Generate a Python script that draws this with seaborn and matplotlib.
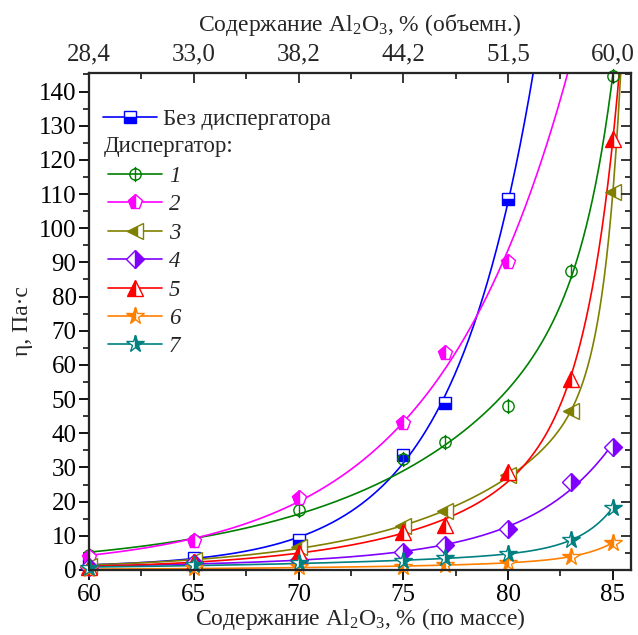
import numpy as np
import pandas as pd
import matplotlib
matplotlib.use("Agg")
import matplotlib.pyplot as plt
from matplotlib.path import Path
from matplotlib.lines import Line2D
from matplotlib.ticker import MultipleLocator, FixedLocator, FixedFormatter
import seaborn as sns

# ---------------- data ----------------
x_all = [60, 65, 70, 75, 77, 80, 83, 85]
x_short = [60, 65, 70, 75, 77, 80]

y_none = [1.5, 3.6, 8.8, 33.5, 49.0, 108.5]           # Без диспергатора
y_d1 = [4.4, 8.9, 17.5, 32.5, 37.5, 48.0, 87.5, 144.5]
y_d2 = [3.9, 8.4, 21.2, 43.0, 63.5, 90.0]
y_d3 = [1.2, 2.9, 6.6, 12.9, 17.3, 27.7, 46.5, 110.5]
y_d4 = [1.0, 2.1, 2.9, 5.4, 7.3, 11.9, 25.7, 36.0]
y_d5 = [1.0, 2.4, 5.0, 11.0, 13.1, 28.6, 56.0, 126.0]
y_d6 = [0.2, 0.5, 0.8, 1.0, 1.5, 2.1, 3.9, 8.0]
y_d7 = [0.7, 1.5, 1.9, 2.7, 3.6, 4.6, 8.9, 18.2]

top_tick_pos = [60, 65, 70, 75, 80, 85]
top_tick_labels = ["28,4", "33,0", "38,2", "44,2", "51,5", "60,0"]
bottom_ticks = [60, 65, 70, 75, 80, 85]
legend_labels = ["Без диспергатора", "1", "2", "3", "4", "5", "6", "7"]

# ---------------- style ----------------
sns.set_theme(style="ticks")
plt.rcParams["font.family"] = ["Liberation Serif", "DejaVu Serif"]
plt.rcParams["mathtext.fontset"] = "custom"
plt.rcParams["mathtext.rm"] = "Liberation Serif"
plt.rcParams["mathtext.it"] = "Liberation Serif:italic"
plt.rcParams["mathtext.default"] = "rm"

TFS = 18     # tick labels
LFS = 17     # axis titles
GFS = 16.5   # legend

phi = Path.make_compound_path(
    Path.unit_circle(),
    Path([[0, -1.35], [0, 1.35]], [Path.MOVETO, Path.LINETO]),
)

series = [
    dict(x=x_short, y=y_none, color="#0000FF", marker="s", fill="bottom", ms=8, xend=86),
    dict(x=x_all, y=y_d1, color="#008000", marker=phi, fill="none", ms=11, xend=86),
    dict(x=x_short, y=y_d2, color="#FF00FF", marker="p", fill="left", ms=11, xend=86),
    dict(x=x_all, y=y_d3, color="#808000", marker="<", fill="left", ms=11, xend=86),
    dict(x=x_all, y=y_d4, color="#8000FF", marker="D", fill="right", ms=9, xend=85),
    dict(x=x_all, y=y_d5, color="#FF0000", marker="^", fill="left", ms=11, xend=86),
    dict(x=x_all, y=y_d6, color="#FF8000", marker="*", fill="left", ms=13, xend=85),
    dict(x=x_all, y=y_d7, color="#008080", marker="*", fill="right", ms=13, xend=85),
]


def two_exp_fit(xs, ys, xend):
    """Non-negative sum of two exponential growths, weighted toward relative error."""
    xs = np.asarray(xs, float)
    ys = np.asarray(ys, float)
    w = 1.0 / np.sqrt(ys)
    best = None
    ts = np.geomspace(0.6, 40, 70)
    for i, t1 in enumerate(ts):
        for t2 in ts[: i + 1]:
            A = np.column_stack([np.exp((xs - 60) / t1), np.exp((xs - 60) / t2)])
            coef, *_ = np.linalg.lstsq(A * w[:, None], ys * w, rcond=None)
            if np.any(coef < 0):
                continue
            r = np.sum(((A @ coef - ys) * w) ** 2)
            if best is None or r < best[0]:
                best = (r, t1, t2, coef)
    _, t1, t2, coef = best
    grid = np.linspace(60, xend, 700)
    return grid, coef[0] * np.exp((grid - 60) / t1) + coef[1] * np.exp((grid - 60) / t2)


fig = plt.figure(figsize=(6.38, 6.35), dpi=100)
ax = fig.add_axes([0.1395, 0.1024, 0.849, 0.7831])

handles = []
for s in series:
    gx, gy = two_exp_fit(s["x"], s["y"], s["xend"])
    sns.lineplot(x=gx, y=gy, ax=ax, color=s["color"], lw=1.2, legend=False,
                 sort=False, zorder=2)
    if s["fill"] == "none":
        mfc, fs = "none", "full"
    else:
        mfc, fs = s["color"], s["fill"]
    ax.plot(s["x"], s["y"], linestyle="none", marker=s["marker"], ms=s["ms"],
            color=s["color"], mec=s["color"], mfc=mfc, mfcalt="white",
            fillstyle=fs, mew=1.0, zorder=3, clip_on=False)
    handles.append(Line2D([], [], color=s["color"], lw=1.2, marker=s["marker"],
                          ms=s["ms"], mec=s["color"], mfc=mfc, mfcalt="white",
                          fillstyle=fs, mew=1.0))

ax.set_xlim(60, 85.85)
ax.set_ylim(0, 145.5)

# bottom / left axes
ax.xaxis.set_major_locator(FixedLocator(bottom_ticks))
ax.xaxis.set_minor_locator(MultipleLocator(2.5))
ax.yaxis.set_major_locator(MultipleLocator(10))
ax.yaxis.set_minor_locator(MultipleLocator(5))
ax.tick_params(axis="both", which="major", direction="out", length=7, width=1.3,
               labelsize=TFS, color="black", labelcolor="black")
ax.tick_params(axis="x", which="major", pad=3)
ax.tick_params(axis="y", which="major", pad=2)
ax.tick_params(axis="both", which="minor", direction="out", length=4, width=1.3)
for sp in ax.spines.values():
    sp.set_linewidth(1.5)
    sp.set_color("black")
    sp.set_visible(True)

ax.set_xlabel("Содержание Al$_2$O$_3$, % (по массе)", fontsize=LFS, labelpad=0)
ax.set_ylabel("η, Па·с", fontsize=LFS, labelpad=4)

# top axis
axt = ax.twiny()
axt.set_xlim(ax.get_xlim())
axt.xaxis.set_major_locator(FixedLocator(top_tick_pos))
axt.xaxis.set_major_formatter(FixedFormatter(top_tick_labels))
axt.xaxis.set_minor_locator(MultipleLocator(2.5))
axt.tick_params(axis="x", which="major", direction="in", length=7, width=1.3,
                labelsize=TFS, pad=5)
axt.tick_params(axis="x", which="minor", direction="in", length=4, width=1.3)
axt.set_xlabel("Содержание Al$_2$O$_3$, % (объемн.)", fontsize=LFS, labelpad=9)

# right ticks
axr = ax.twinx()
axr.set_ylim(ax.get_ylim())
axr.yaxis.set_major_locator(MultipleLocator(10))
axr.yaxis.set_minor_locator(MultipleLocator(5))
axr.tick_params(axis="y", which="major", direction="in", length=7, width=1.3,
                labelright=False)
axr.tick_params(axis="y", which="minor", direction="in", length=4, width=1.3)
for a in (axt, axr):
    for sp in a.spines.values():
        sp.set_linewidth(1.5)

# legends
leg1 = ax.legend([handles[0]], [legend_labels[0]], loc="upper left",
                 bbox_to_anchor=(0.0, 0.955), frameon=False, fontsize=GFS,
                 handlelength=2.35, handletextpad=0.3, borderaxespad=0.2)
ax.add_artist(leg1)
ax.text(0.028, 0.852, "Диспергатор:", transform=ax.transAxes, fontsize=GFS,
        ha="left", va="center")
leg2 = ax.legend(handles[1:], legend_labels[1:], loc="upper left",
                 bbox_to_anchor=(0.01, 0.84), frameon=False,
                 prop={"size": GFS, "style": "italic"}, handlelength=2.35,
                 handletextpad=0.3, labelspacing=0.32, borderaxespad=0.2)

fig.savefig("out.png", dpi=100)
